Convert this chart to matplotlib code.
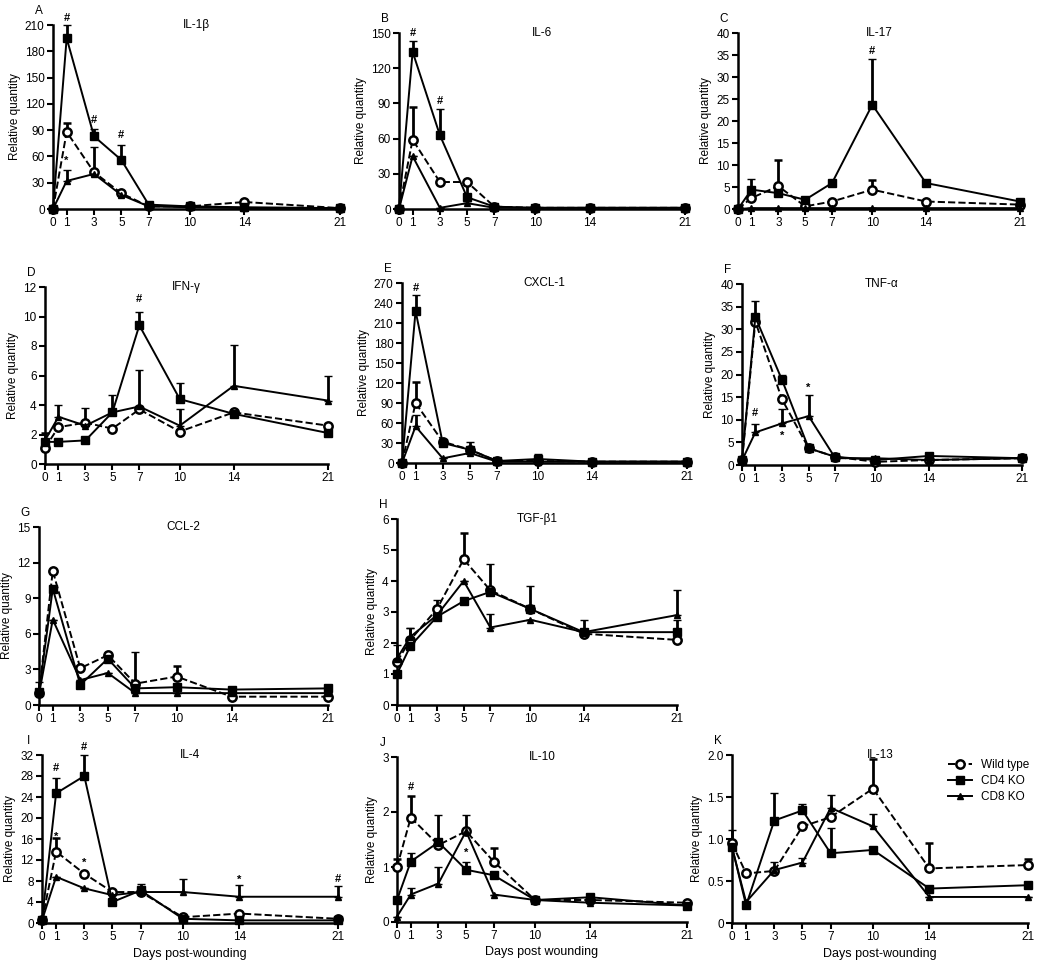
import matplotlib
matplotlib.use('Agg')
import matplotlib.pyplot as plt
from matplotlib.lines import Line2D
import numpy as np

plt.rcParams['font.family'] = ['Liberation Sans', 'DejaVu Sans']

days = [0, 1, 3, 5, 7, 10, 14, 21]

# A  IL-1beta
il1b_wt = [0, 88, 42, 18, 3, 3, 8, 1]
il1b_wt_err = [0, 10, 0, 0, 0, 0, 0, 0]
il1b_cd4 = [0, 195, 83, 56, 5, 3, 2, 1]
il1b_cd4_err = [0, 15, 8, 17, 0, 0, 0, 0]
il1b_cd8 = [0, 32, 40, 16, 3, 2, 1, 1]
il1b_cd8_err = [0, 13, 31, 4, 0, 0, 0, 0]

# B  IL-6
il6_wt = [0, 59, 23, 23, 2, 1, 1, 1]
il6_wt_err = [0, 28, 0, 0, 0, 0, 0, 0]
il6_cd4 = [0, 134, 63, 10, 2, 1, 1, 1]
il6_cd4_err = [0, 9, 22, 14, 0, 0, 0, 0]
il6_cd8 = [0, 45, 1, 5, 1, 1, 1, 1]
il6_cd8_err = [0, 0, 0, 0, 0, 0, 0, 0]

# C  IL-17
il17_wt = [0, 2.5, 5.2, 0.6, 1.7, 4.4, 1.7, 1.0]
il17_wt_err = [0, 0, 6, 0, 0, 2.3, 0, 0]
il17_cd4 = [0, 4.4, 3.6, 2.1, 5.9, 23.7, 5.9, 1.7]
il17_cd4_err = [0, 2.5, 0, 0, 0, 10.5, 0, 0]
il17_cd8 = [0, 0.2, 0.2, 0.2, 0.2, 0.2, 0.2, 0.2]
il17_cd8_err = [0, 0, 0, 0, 0, 0, 0, 0]

# D  IFN-gamma
ifng_wt = [1.1, 2.5, 2.8, 2.4, 3.7, 2.2, 3.5, 2.6]
ifng_wt_err = [1.0, 0, 0, 0, 0, 0, 0, 0]
ifng_cd4 = [1.5, 1.5, 1.6, 3.5, 9.4, 4.4, 3.4, 2.1]
ifng_cd4_err = [0, 0, 0, 0, 0.9, 1.1, 0, 0]
ifng_cd8 = [1.6, 3.2, 2.6, 3.5, 3.9, 2.6, 5.3, 4.3]
ifng_cd8_err = [0, 0.8, 1.2, 1.2, 2.5, 1.1, 2.8, 1.7]

# E  CXCL-1
cxcl1_wt = [0, 90, 32, 20, 3, 3, 2, 2]
cxcl1_wt_err = [0, 32, 0, 0, 0, 0, 0, 0]
cxcl1_cd4 = [0, 228, 30, 20, 3, 6, 2, 2]
cxcl1_cd4_err = [0, 24, 0, 12, 0, 7, 0, 0]
cxcl1_cd8 = [0, 55, 7, 15, 2, 2, 2, 2]
cxcl1_cd8_err = [0, 17, 0, 0, 0, 0, 0, 0]

# F  TNF-alpha
tnfa_wt = [1, 31.7, 14.5, 3.7, 1.8, 0.7, 1.1, 1.5]
tnfa_wt_err = [0, 0, 0, 0, 0, 0, 0, 0]
tnfa_cd4 = [1, 32.7, 18.8, 3.7, 1.8, 1.1, 2.0, 1.5]
tnfa_cd4_err = [0, 3.5, 1.2, 0, 0, 0, 0, 0]
tnfa_cd8 = [1, 7.2, 9.2, 10.8, 1.5, 1.5, 1.1, 1.5]
tnfa_cd8_err = [0, 1.8, 3.1, 4.7, 0, 0, 0, 0]

# G  CCL-2
ccl2_wt = [1.0, 11.3, 3.1, 4.2, 1.8, 2.4, 0.7, 0.7]
ccl2_wt_err = [0, 0, 0, 0, 0, 0.9, 0, 0]
ccl2_cd4 = [1.1, 9.8, 1.7, 3.9, 1.4, 1.5, 1.3, 1.4]
ccl2_cd4_err = [0.8, 0, 0, 0, 3.1, 0, 0, 0]
ccl2_cd8 = [0.9, 7.2, 2.1, 2.7, 1.0, 1.0, 1.0, 1.0]
ccl2_cd8_err = [0, 0, 0, 0, 0, 0, 0, 0]

# H  TGF-beta1
tgfb1_wt = [1.4, 2.1, 3.1, 4.7, 3.7, 3.1, 2.3, 2.1]
tgfb1_wt_err = [0, 0, 0, 0.85, 0, 0, 0, 0]
tgfb1_cd4 = [1.0, 1.9, 2.85, 3.35, 3.65, 3.1, 2.35, 2.35]
tgfb1_cd4_err = [0, 0.6, 0, 0, 0.9, 0.75, 0.4, 0.4]
tgfb1_cd8 = [1.5, 2.2, 2.9, 4.0, 2.5, 2.75, 2.35, 2.9]
tgfb1_cd8_err = [0.45, 0.3, 0.5, 0, 0.45, 0, 0, 0.8]

# I  IL-4
il4_wt = [0.5, 13.6, 9.4, 5.9, 5.9, 1.1, 1.8, 0.8]
il4_wt_err = [0, 2.5, 0, 0, 0, 0, 0, 0]
il4_cd4 = [0.5, 24.7, 28.0, 4.0, 6.2, 0.8, 0.5, 0.5]
il4_cd4_err = [0, 3, 4, 0, 1.3, 0, 0, 0]
il4_cd8 = [0.5, 8.8, 6.6, 5.3, 5.9, 5.9, 5.0, 5.0]
il4_cd8_err = [0, 0, 0, 0, 0, 2.5, 2.2, 2.0]

# J  IL-10
il10_wt = [1.0, 1.9, 1.4, 1.65, 1.1, 0.4, 0.4, 0.35]
il10_wt_err = [0.15, 0.4, 0, 0, 0.25, 0, 0, 0]
il10_cd4 = [0.4, 1.1, 1.45, 0.95, 0.85, 0.4, 0.45, 0.3]
il10_cd4_err = [0, 0.15, 0.5, 0.15, 0, 0, 0, 0]
il10_cd8 = [0.1, 0.5, 0.7, 1.65, 0.5, 0.4, 0.35, 0.3]
il10_cd8_err = [0, 0.12, 0.3, 0.3, 0, 0, 0, 0]

# K  IL-13
il13_wt = [0.95, 0.59, 0.62, 1.15, 1.26, 1.6, 0.65, 0.69]
il13_wt_err = [0, 0, 0, 0, 0, 0.35, 0.3, 0.07]
il13_cd4 = [0.91, 0.21, 1.22, 1.34, 0.83, 0.87, 0.41, 0.45]
il13_cd4_err = [0.2, 0, 0.33, 0.08, 0.3, 0, 0, 0]
il13_cd8 = [0.9, 0.25, 0.63, 0.72, 1.37, 1.15, 0.31, 0.31]
il13_cd8_err = [0, 0, 0.1, 0.05, 0.15, 0.15, 0, 0]

# significance marks: (day, value, symbol)
il1b_marks = [(1, 218, '#'), (3, 102, '#'), (5, 84, '#'), (1, 55, '*')]
il6_marks = [(1, 150, '#'), (3, 92, '#')]
il17_marks = [(10, 36, '#')]
ifng_marks = [(7, 11.2, '#')]
cxcl1_marks = [(1, 262, '#')]
tnfa_marks = [(1, 11.5, '#'), (3, 6.5, '*'), (5, 17, '*')]
il4_marks = [(1, 29.5, '#'), (1, 16.5, '*'), (3, 33.5, '#'), (3, 11.5, '*'),
             (14, 8.3, '*'), (21, 8.3, '#')]
il10_marks = [(1, 2.45, '#'), (5, 1.25, '*')]

panels = [
    ('A', 'IL-1\u03b2', il1b_wt, il1b_wt_err, il1b_cd4, il1b_cd4_err, il1b_cd8, il1b_cd8_err,
     np.arange(0, 211, 30), il1b_marks, None),
    ('B', 'IL-6', il6_wt, il6_wt_err, il6_cd4, il6_cd4_err, il6_cd8, il6_cd8_err,
     np.arange(0, 151, 30), il6_marks, None),
    ('C', 'IL-17', il17_wt, il17_wt_err, il17_cd4, il17_cd4_err, il17_cd8, il17_cd8_err,
     np.arange(0, 41, 5), il17_marks, None),
    ('D', 'IFN-\u03b3', ifng_wt, ifng_wt_err, ifng_cd4, ifng_cd4_err, ifng_cd8, ifng_cd8_err,
     np.arange(0, 13, 2), ifng_marks, None),
    ('E', 'CXCL-1', cxcl1_wt, cxcl1_wt_err, cxcl1_cd4, cxcl1_cd4_err, cxcl1_cd8, cxcl1_cd8_err,
     np.arange(0, 271, 30), cxcl1_marks, None),
    ('F', 'TNF-\u03b1', tnfa_wt, tnfa_wt_err, tnfa_cd4, tnfa_cd4_err, tnfa_cd8, tnfa_cd8_err,
     np.arange(0, 41, 5), tnfa_marks, None),
    ('G', 'CCL-2', ccl2_wt, ccl2_wt_err, ccl2_cd4, ccl2_cd4_err, ccl2_cd8, ccl2_cd8_err,
     np.arange(0, 16, 3), [], None),
    ('H', 'TGF-\u03b21', tgfb1_wt, tgfb1_wt_err, tgfb1_cd4, tgfb1_cd4_err, tgfb1_cd8, tgfb1_cd8_err,
     np.arange(0, 7, 1), [], None),
    ('I', 'IL-4', il4_wt, il4_wt_err, il4_cd4, il4_cd4_err, il4_cd8, il4_cd8_err,
     np.arange(0, 33, 4), il4_marks, 'Days post-wounding'),
    ('J', 'IL-10', il10_wt, il10_wt_err, il10_cd4, il10_cd4_err, il10_cd8, il10_cd8_err,
     np.arange(0, 4, 1), il10_marks, 'Days post wounding'),
    ('K', 'IL-13', il13_wt, il13_wt_err, il13_cd4, il13_cd4_err, il13_cd8, il13_cd8_err,
     np.arange(0, 2.01, 0.5), [], 'Days post-wounding'),
]

# axes boxes in pixels: left, top, right, bottom
boxes = [
    (53, 25, 340, 209), (399, 33, 685, 209), (738, 33, 1020, 209),
    (45, 287, 328, 464), (402, 283, 687, 463), (742, 284, 1022, 465),
    (39, 527, 328, 705), (397, 519, 677, 705),
    (42, 755, 338, 923), (397, 757, 687, 922), (732, 755, 1028, 923),
]

styles = [
    dict(ls='--', marker='o', ms=6, mfc='white', mew=1.8, label='Wild type'),
    dict(ls='-', marker='s', ms=6, mfc='black', mew=1.0, label='CD4 KO'),
    dict(ls='-', marker='^', ms=5, mfc='black', mew=1.0, label='CD8 KO'),
]

W, H = 1050, 964
fig = plt.figure(figsize=(W / 100, H / 100), dpi=100)

for (letter, title, wt, wt_e, cd4, cd4_e, cd8, cd8_e, yticks, marks, xlab), box in zip(panels, boxes):
    l, t, r, b = box
    ax = fig.add_axes([l / W, 1 - b / H, (r - l) / W, (b - t) / H])

    for vals, errs, st in zip([wt, cd4, cd8], [wt_e, cd4_e, cd8_e], styles):
        ax.errorbar(days, vals, yerr=[np.zeros(len(days)), errs], color='black', lw=1.4,
                    ls=st['ls'], marker=st['marker'], ms=st['ms'], mfc=st['mfc'],
                    mec='black', mew=st['mew'], elinewidth=2, capsize=3, capthick=2,
                    clip_on=False, zorder=3)

    for d, v, s in marks:
        ax.text(d, v, s, ha='center', va='center', fontsize=8, fontweight='bold')

    ax.set_xlim(0, 21)
    ax.set_ylim(0, yticks[-1])
    ax.set_xticks(days)
    ax.set_yticks(yticks)
    if letter == 'K':
        ax.set_yticklabels(['0', '0.5', '1.0', '1.5', '2.0'])
    ax.tick_params(direction='out', length=4, width=1.5, labelsize=8.5, pad=2)
    for side in ['top', 'right']:
        ax.spines[side].set_visible(False)
    for side in ['left', 'bottom']:
        ax.spines[side].set_linewidth(1.8)

    ax.set_ylabel('Relative quantity', fontsize=8.5, labelpad=3)
    if xlab:
        ax.set_xlabel(xlab, fontsize=9, labelpad=3)

    ax.text(0.5, 1.0, title, transform=ax.transAxes, ha='center', va='center', fontsize=8.5)
    ax.annotate(letter, xy=(0, 1), xycoords='axes fraction', xytext=(-14, 14),
                textcoords='offset pixels', ha='center', va='center', fontsize=8.5)

    if letter == 'K':
        handles = [Line2D([], [], color='black', lw=1.4, ls=st['ls'], marker=st['marker'],
                          ms=st['ms'], mfc=st['mfc'], mec='black', mew=st['mew'])
                   for st in styles]
        ax.legend(handles, [st['label'] for st in styles], loc='upper right',
                  bbox_to_anchor=(1.04, 1.04), frameon=False, fontsize=8.5,
                  handlelength=2.0, labelspacing=0.35)

fig.savefig('out.png', dpi=100)
